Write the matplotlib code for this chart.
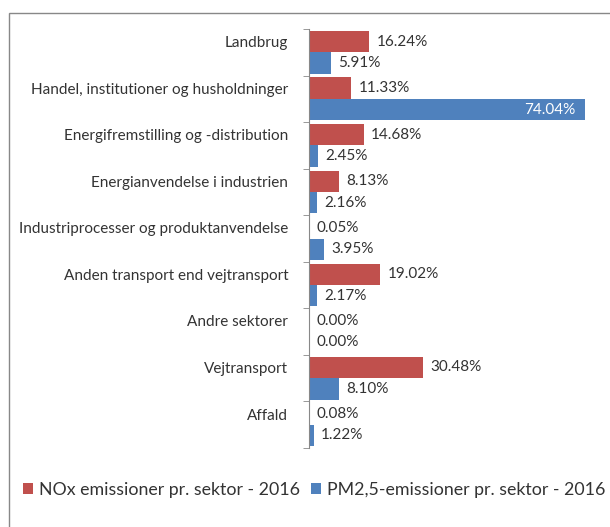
import matplotlib.pyplot as plt
from matplotlib.patches import Rectangle
import numpy as np

categories = ["Landbrug", "Handel, institutioner og husholdninger",
              "Energifremstilling og -distribution", "Energianvendelse i industrien",
              "Industriprocesser og produktanvendelse", "Anden transport end vejtransport",
              "Andre sektorer", "Vejtransport", "Affald"]
nox = [16.24, 11.33, 14.68, 8.13, 0.05, 19.02, 0.00, 30.48, 0.08]
pm25 = [5.91, 74.04, 2.45, 2.16, 3.95, 2.17, 0.00, 8.10, 1.22]
series_names = ["NOx emissioner pr. sektor - 2016", "PM2,5-emissioner pr. sektor - 2016"]

RED = "#C0504D"
BLUE = "#4F81BD"
TXT = "#333333"
plt.rcParams['font.family'] = ['Lato', 'DejaVu Sans']

fig = plt.figure(figsize=(6.10, 5.27), dpi=100)
fig.patches.append(Rectangle((9/610, -0.1), 1.2, 1 - 13/527 + 0.1, transform=fig.transFigure,
                             fill=False, edgecolor="#888888", linewidth=1.0))
ax = fig.add_axes([309/610, 1 - 448/527, 298/610, 419/527])

n = len(categories)
idx = np.arange(n)
h = 0.46
ax.barh(idx - h/2, nox, height=h, color=RED, label=series_names[0])
ax.barh(idx + h/2, pm25, height=h, color=BLUE, label=series_names[1])

fs = 11.0
for i in range(n):
    ax.text(nox[i] + 2.0, i - h/2, f"{nox[i]:.2f}%", va="center", ha="left", fontsize=fs, color=TXT)
    if pm25[i] > 60:
        ax.text(pm25[i] - 2.5, i + h/2, f"{pm25[i]:.2f}%", va="center", ha="right", fontsize=fs, color="white")
    else:
        ax.text(pm25[i] + 2.0, i + h/2, f"{pm25[i]:.2f}%", va="center", ha="left", fontsize=fs, color=TXT)

ax.set_xlim(0, 80)
ax.set_ylim(n - 0.5, -0.5)
ax.set_yticks(idx - h/2)
ax.set_yticklabels(categories, fontsize=fs, color=TXT)
ax.tick_params(axis="y", which="major", length=0, pad=15)
ax.set_yticks(np.arange(n + 1) - 0.5, minor=True)
ax.tick_params(axis="y", which="minor", length=4, color="#888888")
ax.set_xticks([])
for s in ["top", "right", "bottom"]:
    ax.spines[s].set_visible(False)
ax.spines["left"].set_color("#888888")

fig.legend(loc="center", bbox_to_anchor=(0.515, 1 - 490/527), ncol=2, frameon=False,
           fontsize=12.8, handlelength=0.55, handleheight=0.55, handletextpad=0.35,
           columnspacing=0.6, labelcolor=TXT)

fig.savefig("out.png", dpi=100)
